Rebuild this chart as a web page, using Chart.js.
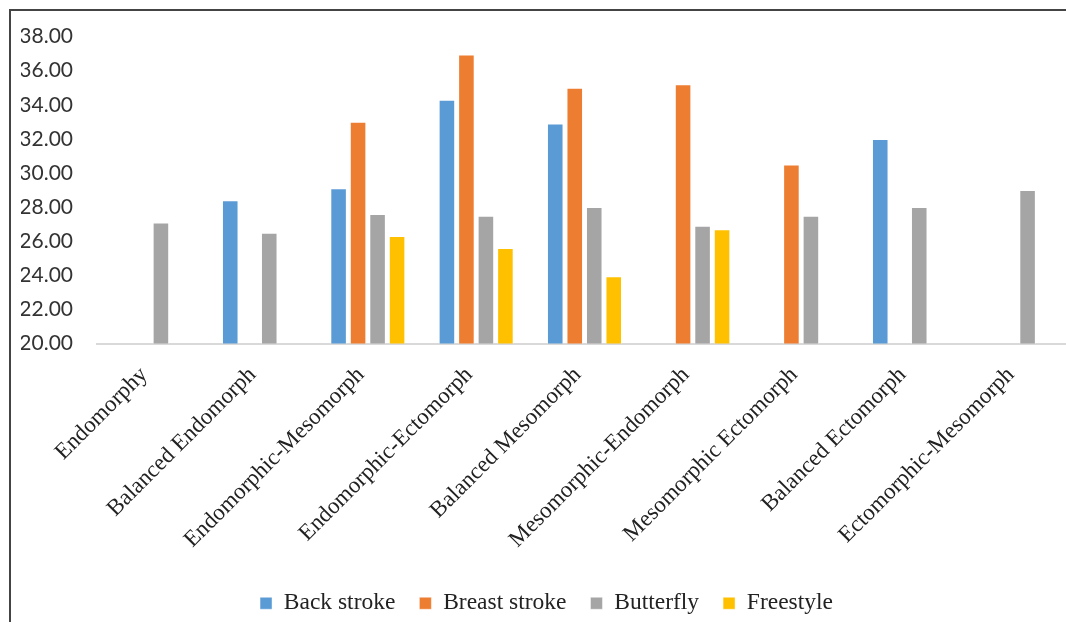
<!DOCTYPE html>
<html>
<head>
<meta charset="utf-8">
<script src="https://cdn.jsdelivr.net/npm/chart.js@4/dist/chart.umd.min.js"></script>
<style>
  html, body { margin: 0; padding: 0; background: #fff; overflow: hidden; width: 1066px; height: 622px; }
  #wrap { position: absolute; left: 3px; top: 0; width: 1082px; height: 630px; }
  .frame { position: absolute; background: #444; }
  #frameLeft { left: 9px; top: 9px; width: 2px; height: 620px; }
  #frameTop { left: 9px; top: 9px; width: 1060px; height: 2px; }
</style>
</head>
<body>
<div id="wrap"><canvas id="chart"></canvas></div>
<div class="frame" id="frameLeft"></div>
<div class="frame" id="frameTop"></div>
<script>
// Somatotype categories along the x axis
const categories = [
  'Endomorphy',
  'Balanced Endomorph',
  'Endomorphic-Mesomorph',
  'Endomorphic-Ectomorph',
  'Balanced Mesomorph',
  'Mesomorphic-Endomorph',
  'Mesomorphic Ectomorph',
  'Balanced Ectomorph',
  'Ectomorphic-Mesomorph'
];

// Values per swimming style (null = no swimmer in that category)
const backStroke   = [null, 28.4, 29.1, 34.3, 32.9, null, null, 32.0, null];
const breastStroke = [null, null, 33.0, 36.95, 35.0, 35.2, 30.5, null, null];
const butterfly    = [27.1, 26.5, 27.6, 27.5, 28.0, 26.9, 27.5, 28.0, 29.0];
const freestyle    = [null, null, 26.3, 25.6, 23.95, 26.7, null, null, null];

const seriesNames = ['Back stroke', 'Breast stroke', 'Butterfly', 'Freestyle'];
const seriesColors = ['#5B9BD5', '#ED7D31', '#A5A5A5', '#FFC000'];

// Y axis range and tick step
const yMin = 20;
const yMax = 38;
const yStep = 2;

const serif = "'Liberation Serif', 'Times New Roman', serif";
const sans = "Lato, 'Liberation Sans', sans-serif";

const seriesValues = [backStroke, breastStroke, butterfly, freestyle];
const datasets = seriesValues.map((vals, i) => ({
  label: seriesNames[i],
  data: vals,
  backgroundColor: seriesColors[i],
  borderColor: 'rgba(255,255,255,0.45)',
  borderWidth: 1,
  categoryPercentage: 0.72,
  barPercentage: 0.85
}));

new Chart(document.getElementById('chart'), {
  type: 'bar',
  data: { labels: categories, datasets },
  options: {
    responsive: true,
    maintainAspectRatio: false,
    animation: false,
    layout: { padding: { left: 18, right: 13, top: 34, bottom: 5 } },
    plugins: {
      tooltip: { enabled: false },
      legend: {
        position: 'bottom',
        labels: {
          boxWidth: 12,
          boxHeight: 12,
          padding: 24,
          color: '#222',
          font: { family: serif, size: 23.5 }
        }
      }
    },
    scales: {
      x: {
        grid: { display: false, drawTicks: false },
        border: { display: true, color: '#D9D9D9', width: 2 },
        ticks: {
          color: '#222',
          font: { family: serif, size: 23 },
          minRotation: 45,
          maxRotation: 45,
          autoSkip: false,
          padding: 18,
          labelOffset: -7
        },
        afterFit(scale) { scale.height = 224; }
      },
      y: {
        min: yMin,
        max: yMax,
        grid: { display: false, drawTicks: false },
        border: { display: false },
        ticks: {
          stepSize: yStep,
          color: '#333',
          padding: 24,
          font: { family: sans, size: 21 },
          callback: (v) => Number(v).toFixed(2)
        },
        afterFit(scale) { scale.width = 76; }
      }
    }
  }
});
</script>
</body>
</html>
